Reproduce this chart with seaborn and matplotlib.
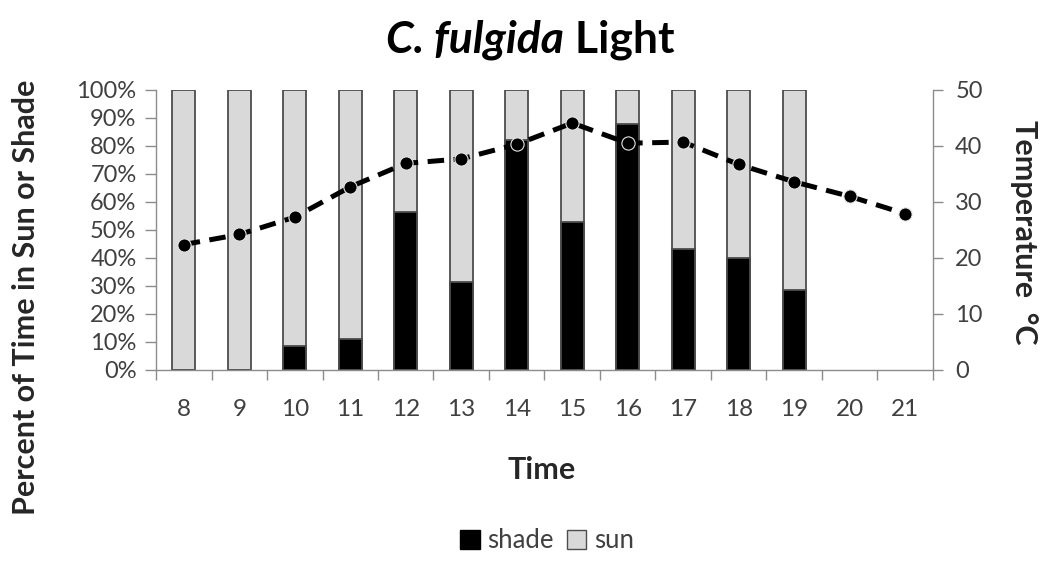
import numpy as np
import pandas as pd
import matplotlib
matplotlib.use("Agg")
import matplotlib.pyplot as plt
import seaborn as sns
from matplotlib.patches import Patch

hours = ["8", "9", "10", "11", "12", "13", "14", "15", "16", "17", "18", "19", "20", "21"]
shade_pct = [0, 0, 8.7, 11.1, 56.4, 31.6, 82.1, 52.7, 87.7, 43.1, 40.0, 28.4, np.nan, np.nan]
sun_pct = [100, 100, 91.3, 88.9, 43.6, 68.4, 17.9, 47.3, 12.3, 56.9, 60.0, 71.6, np.nan, np.nan]
temperature = [22.4, 24.2, 27.3, 32.7, 36.9, 37.7, 40.3, 44.1, 40.5, 40.7, 36.7, 33.6, 31.0, 27.9]

sns.set_theme(style="white")
plt.rcParams["font.family"] = ["Lato", "DejaVu Sans"]

df = pd.DataFrame({"hour": hours, "shade": shade_pct, "sun": sun_pct, "temp": temperature})
df["total"] = df["shade"] + df["sun"]

fig = plt.figure(figsize=(10.45, 5.61), dpi=100)
ax = fig.add_axes([156 / 1045, 1 - 370 / 561, 777 / 1045, 280 / 561])

gray = "#d9d9d9"
edge = "#4d4d4d"
sns.barplot(data=df, x="hour", y="total", order=hours, color=gray, edgecolor=edge,
            linewidth=1.3, width=0.41, saturation=1, ax=ax, errorbar=None)
sns.barplot(data=df, x="hour", y="shade", order=hours, color="black", edgecolor=edge,
            linewidth=1.3, width=0.41, saturation=1, ax=ax, errorbar=None)

ax.set_ylim(0, 100)
ax.set_xlim(-0.5, len(hours) - 0.5)
ax.set_yticks(np.arange(0, 101, 10))
ax.set_yticklabels([f"{v}%" for v in range(0, 101, 10)])
ax.set_xlabel("")
ax.set_ylabel("")

ax2 = ax.twinx()
sns.pointplot(data=df, x="hour", y="temp", order=hours, color="black", linestyles="--",
              markers="o", markersize=9.5, markeredgecolor="#e6e6e6", markeredgewidth=0.8,
              linewidth=3.6, ax=ax2, errorbar=None)
for ln in ax2.lines:
    ln.set_dashes([3.3, 1.9])
ax2.set_ylim(0, 50)
ax2.set_yticks(np.arange(0, 51, 10))
ax2.set_xlim(-0.5, len(hours) - 0.5)
ax2.set_ylabel("")
ax2.set_xlabel("")

axis_col = "#8c8c8c"
label_col = "#404040"
for a in (ax, ax2):
    a.spines["top"].set_visible(False)
    for s in ("left", "right", "bottom"):
        a.spines[s].set_color(axis_col)
        a.spines[s].set_linewidth(1.0)
ax.spines["right"].set_visible(False)
ax2.spines["left"].set_visible(False)
ax2.spines["bottom"].set_visible(False)

ax.tick_params(axis="y", left=True, length=8, width=1, color=axis_col, labelsize=17,
               labelcolor=label_col, pad=6)
ax2.tick_params(axis="y", right=True, length=7, width=1, color=axis_col, labelsize=17,
                labelcolor=label_col, pad=9)
ax.set_xticks(np.arange(len(hours)))
ax.set_xticklabels(hours)
ax.set_xticks(np.arange(-0.5, len(hours), 1.0), minor=True)
ax.tick_params(axis="x", which="major", bottom=True, length=0, labelsize=17.5,
               labelcolor=label_col, pad=21)
ax.tick_params(axis="x", which="minor", bottom=True, length=7, width=1, color=axis_col)
ax2.tick_params(axis="x", bottom=False, labelbottom=False)

# Title with italic species name
fig.canvas.draw()
r = fig.canvas.get_renderer()
t1 = fig.text(0, 1 - 40 / 561, "C. fulgida", fontsize=32, fontweight="bold", style="italic",
              va="center", ha="left", color="black")
t2 = fig.text(0, 1 - 40 / 561, " Light", fontsize=32, fontweight="bold",
              va="center", ha="left", color="black")
w1 = t1.get_window_extent(r).width
w2 = t2.get_window_extent(r).width
cx = 530
start = cx - (w1 + w2) / 2
t1.set_x(start / 1045)
t2.set_x((start + w1) / 1045)

fig.text(26 / 1045, 1 - 297 / 561, "Percent of Time in Sun or Shade", rotation=90,
         fontsize=22, fontweight="bold", ha="center", va="center")
fig.text(542 / 1045, 1 - 470 / 561, "Time", fontsize=22, fontweight="bold",
         ha="center", va="center")
fig.text(1024 / 1045, 1 - 232 / 561, "Temperature  °C", rotation=270,
         fontsize=22, fontweight="bold", ha="center", va="center")

handles = [Patch(facecolor="black", edgecolor="black", label="shade"),
           Patch(facecolor=gray, edgecolor=edge, label="sun")]
fig.legend(handles=handles, loc="center", bbox_to_anchor=(547 / 1045, 1 - 541 / 561),
           ncol=2, frameon=False, fontsize=18.5, handlelength=0.75, handleheight=0.75,
           handletextpad=0.3, columnspacing=0.5, labelcolor=label_col)

fig.savefig("out.png", dpi=100)
